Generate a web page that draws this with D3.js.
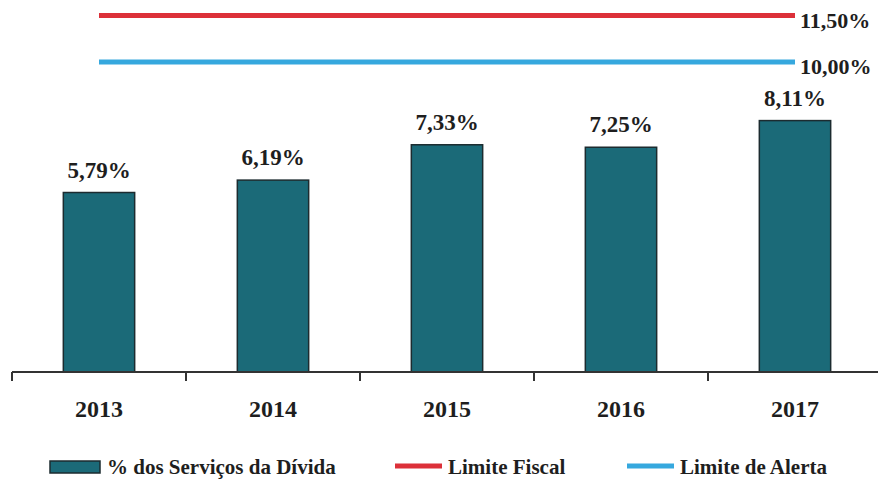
<!DOCTYPE html>
<html>
<head>
<meta charset="utf-8">
<script src="https://cdn.jsdelivr.net/npm/d3@7"></script>
<style>
  html, body { margin: 0; padding: 0; background: #fff; }
  svg { display: block; font-family: "Liberation Serif", "Times New Roman", serif; }
</style>
</head>
<body>
<div id="app"></div>
<script>
// data
const years = ["2013", "2014", "2015", "2016", "2017"];
const debtService = [5.79, 6.19, 7.33, 7.25, 8.11];
const fiscalLimit = 11.5;
const alertLimit = 10.0;
const legendLabels = ["% dos Serviços da Dívida", "Limite Fiscal", "Limite de Alerta"];

const width = 878, height = 481;
const colors = { bar: "#1b6a78", fiscal: "#dc3039", alert: "#36a8de", text: "#1e1e1e" };

const fmt = v => v.toFixed(2).replace(".", ",") + "%";

const svg = d3.select("#app").append("svg")
  .attr("width", width)
  .attr("height", height);

const x = d3.scaleBand()
  .domain(years)
  .range([12, 882])
  .paddingInner(0.59)
  .paddingOuter(0.295);

const y = d3.scaleLinear()
  .domain([0, 12])
  .range([372, 0]);

const data = years.map((year, i) => ({ year, value: debtService[i] }));

// bars
svg.append("g")
  .selectAll("rect")
  .data(data)
  .join("rect")
  .attr("x", d => x(d.year))
  .attr("y", d => y(d.value))
  .attr("width", x.bandwidth())
  .attr("height", d => y(0) - y(d.value))
  .attr("fill", colors.bar)
  .attr("stroke", "#1c2b2f")
  .attr("stroke-width", 1.5);

// value labels
svg.append("g")
  .selectAll("text")
  .data(data)
  .join("text")
  .attr("x", d => x(d.year) + x.bandwidth() / 2)
  .attr("y", d => y(d.value) - 15)
  .attr("text-anchor", "middle")
  .attr("font-size", 23)
  .attr("font-weight", "bold")
  .attr("fill", colors.text)
  .text(d => fmt(d.value));

// limit lines, from first to last category centre
const limits = [
  { value: fiscalLimit, color: colors.fiscal },
  { value: alertLimit, color: colors.alert }
];
const x0 = x(years[0]) + x.bandwidth() / 2;
const x1 = x(years[years.length - 1]) + x.bandwidth() / 2;

const limitG = svg.append("g");
limitG.selectAll("line")
  .data(limits)
  .join("line")
  .attr("x1", x0)
  .attr("x2", x1)
  .attr("y1", d => y(d.value))
  .attr("y2", d => y(d.value))
  .attr("stroke", d => d.color)
  .attr("stroke-width", 5);

limitG.selectAll("text")
  .data(limits)
  .join("text")
  .attr("x", x1 + 5)
  .attr("y", d => y(d.value) + 12)
  .attr("font-size", 22)
  .attr("font-weight", "bold")
  .attr("fill", colors.text)
  .text(d => fmt(d.value));

// x axis: baseline with ticks between categories
const step = x.step();
const gap = step - x.bandwidth();
const tickPos = years.map(d => x(d) - gap / 2).concat([x(years[years.length - 1]) + x.bandwidth() + gap / 2]);

const axis = svg.append("g").attr("class", "x-axis");
axis.append("line")
  .attr("x1", 12)
  .attr("x2", 882)
  .attr("y1", y(0))
  .attr("y2", y(0))
  .attr("stroke", "#333")
  .attr("stroke-width", 2);
axis.selectAll(".tick")
  .data(tickPos)
  .join("line")
  .attr("class", "tick")
  .attr("x1", d => d)
  .attr("x2", d => d)
  .attr("y1", y(0))
  .attr("y2", y(0) + 9)
  .attr("stroke", "#333")
  .attr("stroke-width", 2);
axis.selectAll("text")
  .data(years)
  .join("text")
  .attr("x", d => x(d) + x.bandwidth() / 2)
  .attr("y", 417)
  .attr("text-anchor", "middle")
  .attr("font-size", 24)
  .attr("font-weight", "bold")
  .attr("fill", colors.text)
  .text(d => d);

// legend
const legendItems = [
  { label: legendLabels[0], type: "rect", color: colors.bar, x: 50 },
  { label: legendLabels[1], type: "line", color: colors.fiscal, x: 395 },
  { label: legendLabels[2], type: "line", color: colors.alert, x: 627 }
];

const legend = svg.append("g").attr("class", "legend");
const item = legend.selectAll("g")
  .data(legendItems)
  .join("g")
  .attr("transform", d => `translate(${d.x},466)`);

item.filter(d => d.type === "rect")
  .append("rect")
  .attr("x", 0)
  .attr("y", -5)
  .attr("width", 50)
  .attr("height", 12)
  .attr("fill", d => d.color)
  .attr("stroke", "#1c2b2f")
  .attr("stroke-width", 1.5);

item.filter(d => d.type === "line")
  .append("line")
  .attr("x1", 0)
  .attr("x2", 47)
  .attr("stroke", d => d.color)
  .attr("stroke-width", 5);

item.append("text")
  .attr("x", d => d.type === "rect" ? 57 : 53)
  .attr("y", 8)
  .attr("font-size", 21)
  .attr("font-weight", "bold")
  .attr("fill", colors.text)
  .text(d => d.label);
</script>
</body>
</html>
